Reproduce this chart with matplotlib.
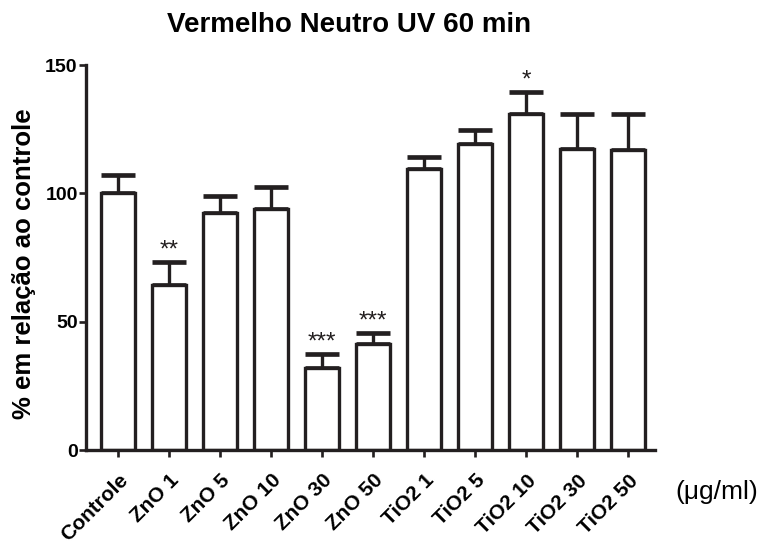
import matplotlib.pyplot as plt
import numpy as np

plt.rcParams['font.family'] = ['Liberation Sans', 'DejaVu Sans']

## dados
grupos = ['Controle', 'ZnO 1', 'ZnO 5', 'ZnO 10', 'ZnO 30', 'ZnO 50',
          'TiO2 1', 'TiO2 5', 'TiO2 10', 'TiO2 30', 'TiO2 50']
medias = [100, 64.2, 92.2, 93.8, 31.8, 41.2, 109.3, 119.2, 130.8, 117.3, 116.9]
erros = [7.1, 8.9, 6.7, 8.5, 5.6, 4.2, 5.0, 5.5, 8.8, 13.6, 14.0]
signif = ['', '**', '', '', '***', '***', '', '', '*', '', '']

cor = '#231f20'
lw = 2.4

fig = plt.figure(figsize=(7.66, 5.45), dpi=100)
ax = fig.add_axes([0.1123, 0.1743, 0.7427, 0.7064])

x = np.arange(len(grupos))
ax.errorbar(x, medias, yerr=[np.zeros(len(x)), erros], fmt='none', ecolor=cor,
            elinewidth=lw, capsize=12, capthick=lw * 1.4, zorder=1)
ax.bar(x, medias, width=0.67, color='white', edgecolor=cor, linewidth=lw, zorder=2)

for i in range(len(x)):
    if signif[i]:
        ax.text(x[i], medias[i] + erros[i] + 4.5, signif[i], ha='center', va='center',
                fontsize=17.5, color=cor)

ax.set_xlim(-0.63, 10.52)
ax.set_ylim(0, 150)
ax.set_yticks([0, 50, 100, 150])
ax.set_xticks(x)
ax.set_xticklabels(grupos, rotation=45, ha='right', rotation_mode='anchor',
                   fontweight='bold', fontsize=15)
for lab in ax.get_yticklabels():
    lab.set_fontweight('bold')
    lab.set_fontsize(14)

for s in ['top', 'right']:
    ax.spines[s].set_visible(False)
for s in ['left', 'bottom']:
    ax.spines[s].set_linewidth(lw)
    ax.spines[s].set_color(cor)
ax.tick_params(axis='both', colors=cor, width=lw * 0.8, length=5)
ax.tick_params(axis='y', labelcolor='black', pad=1)
ax.tick_params(axis='x', labelcolor='black', pad=10)

fig.text(24 / 766, 1 - 264 / 545, '% em relação ao controle', fontsize=18.5,
         fontweight='bold', rotation=90, ha='center', va='center')
fig.text(349 / 766, 1 - 32 / 545, 'Vermelho Neutro UV 60 min', fontsize=20,
         fontweight='bold', ha='center', va='baseline')
fig.text(675 / 766, 1 - 492 / 545, '(\u03bcg/ml)', fontsize=19, ha='left', va='center')

fig.savefig('out.png', dpi=100)
